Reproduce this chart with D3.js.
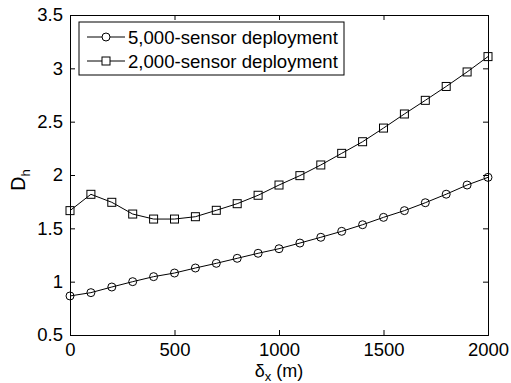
<!DOCTYPE html>
<html lang="en">
<head>
  <meta charset="UTF-8" />
  <title>D_h vs delta_x</title>
  <script src="https://cdn.jsdelivr.net/npm/d3@7"></script>
  <style>
    body { margin: 0; background: #fff; }
    svg { display: block; font-family: "Liberation Sans", Arial, sans-serif; }
  </style>
</head>
<body>
  <div id="chart"></div>
  <script>
    // x positions (m)
    const deltaX = [0, 100, 200, 300, 400, 500, 600, 700, 800, 900, 1000,
                    1100, 1200, 1300, 1400, 1500, 1600, 1700, 1800, 1900, 2000];
    // 5,000-sensor deployment
    const dh5000 = [0.866, 0.897, 0.95, 1.0, 1.047, 1.081, 1.128, 1.172, 1.219, 1.266, 1.309,
                    1.362, 1.416, 1.472, 1.534, 1.603, 1.666, 1.74, 1.82, 1.906, 1.978];
    // 2,000-sensor deployment
    const dh2000 = [1.666, 1.819, 1.744, 1.634, 1.587, 1.587, 1.609, 1.669, 1.731, 1.81, 1.906,
                    1.994, 2.094, 2.203, 2.312, 2.44, 2.572, 2.70, 2.83, 2.966, 3.11];
    const xTicks = [0, 500, 1000, 1500, 2000];
    const yTicks = [0.5, 1, 1.5, 2, 2.5, 3, 3.5];
    const seriesNames = ["5,000-sensor deployment", "2,000-sensor deployment"];

    const W = 511, H = 383;
    const margin = {top: 15, right: 23, bottom: 48, left: 70};
    const w = W - margin.left - margin.right;
    const h = H - margin.top - margin.bottom;

    const svg = d3.select("#chart").append("svg")
      .attr("width", W).attr("height", H);
    const g = svg.append("g")
      .attr("transform", `translate(${margin.left},${margin.top})`);

    const x = d3.scaleLinear().domain([0, 2000]).range([0, w]);
    const y = d3.scaleLinear().domain([0.5, 3.5]).range([h, 0]);

    const fmtY = d => d === 0.5 ? "0.5" : String(d);

    // axes (ticks pointing inward, mirrored on top/right)
    const bottomAx = g.append("g").attr("transform", `translate(0,${h})`)
      .call(d3.axisBottom(x).tickValues(xTicks).tickSize(-5).tickPadding(8).tickFormat(d3.format("d")));
    const leftAx = g.append("g")
      .call(d3.axisLeft(y).tickValues(yTicks).tickSize(-5).tickPadding(10).tickFormat(fmtY));
    g.append("g")
      .call(d3.axisTop(x).tickValues(xTicks).tickSize(-5).tickFormat(""));
    g.append("g").attr("transform", `translate(${w},0)`)
      .call(d3.axisRight(y).tickValues(yTicks).tickSize(-5).tickFormat(""));

    g.selectAll(".domain").attr("stroke", "#000").attr("stroke-width", 1);
    g.selectAll(".tick line").attr("stroke", "#000");
    g.selectAll(".tick text").attr("fill", "#000").attr("font-size", 18.5);
    bottomAx.selectAll(".tick text").attr("dy", "0.71em");
    leftAx.selectAll(".tick text").attr("dx", 3);

    const line = d3.line().x((d, i) => x(deltaX[i])).y(d => y(d));

    // 5,000 series with circles
    g.append("path").datum(dh5000)
      .attr("fill", "none").attr("stroke", "#000").attr("stroke-width", 1)
      .attr("d", line);
    g.selectAll("circle.m5").data(dh5000).join("circle")
      .attr("class", "m5")
      .attr("cx", (d, i) => x(deltaX[i])).attr("cy", d => y(d))
      .attr("r", 4).attr("fill", "none").attr("stroke", "#000");

    // 2,000 series with squares
    g.append("path").datum(dh2000)
      .attr("fill", "none").attr("stroke", "#000").attr("stroke-width", 1)
      .attr("d", line);
    const s = 8;
    g.selectAll("rect.m2").data(dh2000).join("rect")
      .attr("class", "m2")
      .attr("x", (d, i) => x(deltaX[i]) - s / 2).attr("y", d => y(d) - s / 2)
      .attr("width", s).attr("height", s)
      .attr("fill", "none").attr("stroke", "#000");

    // legend
    const leg = svg.append("g").attr("transform", "translate(79,22)");
    leg.append("rect").attr("width", 265).attr("height", 53)
      .attr("fill", "#fff").attr("stroke", "#000");
    seriesNames.forEach((name, i) => {
      const cy = 15 + i * 24;
      leg.append("line").attr("x1", 8).attr("x2", 46).attr("y1", cy).attr("y2", cy)
        .attr("stroke", "#000");
      if (i === 0) {
        leg.append("circle").attr("cx", 27).attr("cy", cy).attr("r", 4)
          .attr("fill", "#fff").attr("stroke", "#000");
      } else {
        leg.append("rect").attr("x", 27 - s / 2).attr("y", cy - s / 2)
          .attr("width", s).attr("height", s)
          .attr("fill", "#fff").attr("stroke", "#000");
      }
      leg.append("text").attr("x", 49).attr("y", cy).attr("dy", "0.35em")
        .attr("font-size", 18.6).attr("fill", "#000").text(name);
    });

    // axis labels
    const yl = svg.append("text")
      .attr("transform", `translate(25,${margin.top + y(2) + 5}) rotate(-90)`)
      .attr("text-anchor", "middle").attr("font-size", 19.5).attr("fill", "#000");
    yl.append("tspan").text("D");
    yl.append("tspan").attr("font-size", 13).attr("dy", 5).text("h");

    const xl = svg.append("text")
      .attr("x", margin.left + x(1000)).attr("y", 377)
      .attr("text-anchor", "middle").attr("font-size", 18).attr("fill", "#000");
    xl.append("tspan").text("δ");
    xl.append("tspan").attr("font-size", 13).attr("dy", 4).text("x");
    xl.append("tspan").attr("dy", -4).text(" (m)");
  </script>
</body>
</html>
